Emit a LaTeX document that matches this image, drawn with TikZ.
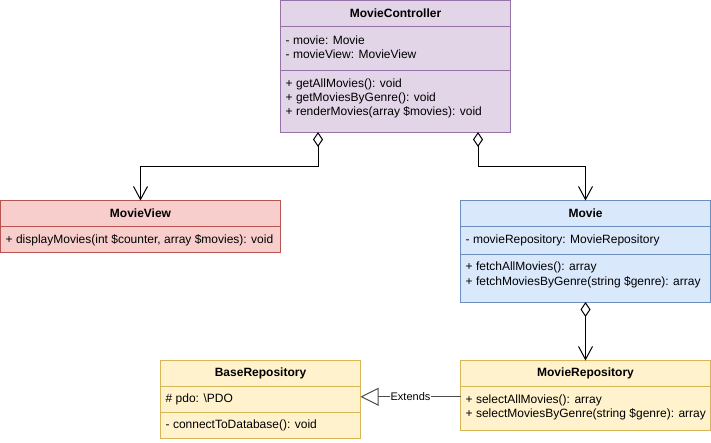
\documentclass[tikz,border=0pt]{standalone}
\usepackage{fontspec}
\setmainfont{Liberation Sans}
\usetikzlibrary{arrows.meta}
\definecolor{pfill}{HTML}{E1D5E7}\definecolor{pdraw}{HTML}{9673A6}
\definecolor{rfill}{HTML}{F8CECC}\definecolor{rdraw}{HTML}{B85450}
\definecolor{bfill}{HTML}{DAE8FC}\definecolor{bdraw}{HTML}{6C8EBF}
\definecolor{yfill}{HTML}{FFF2CC}\definecolor{ydraw}{HTML}{D6B656}
\tikzset{
  cls/.style={rectangle, inner sep=0pt, outer sep=0pt, anchor=north west, line width=1pt},
  ttl/.style={inner sep=0pt, font=\fontsize{12pt}{14.4pt}\selectfont\bfseries},
  mem/.style={inner sep=0pt, anchor=west, font=\fontsize{12pt}{14.4pt}\selectfont},
  agg/.style={line width=1pt, {Diamond[open, fill=white, length=15pt, width=10pt]}-{Straight Barb[length=13pt, width=14pt]}},
  ext/.style={line width=1pt, draw=black!70, -{Triangle[open, fill=white, length=18pt, width=18pt]}},
  lbl/.style={fill=white, inner sep=1pt, font=\fontsize{11pt}{13pt}\selectfont},
}
\begin{document}
\begin{tikzpicture}[x=1pt, y=-1pt]
\useasboundingbox (0,0) rectangle (711,442);
% MovieController
\node[cls, fill=pfill, draw=pdraw, minimum width=230pt, minimum height=131.5pt] (mc) at (280.5,0.5) {};
\draw[pdraw, line width=1pt] (280.5,26.5) -- (510.5,26.5) (280.5,70.5) -- (510.5,70.5);
\node[ttl] (mct) at (395.5,13.5) {MovieController};
\node[mem] (mca1) at (285.5,40) {- movie: Movie};
\node[mem] (mca2) at (285.5,54.4) {- movieView: MovieView};
\node[mem] (mcm1) at (285.5,84) {+ getAllMovies(): void};
\node[mem] (mcm2) at (285.5,98.4) {+ getMoviesByGenre(): void};
\node[mem] (mcm3) at (285.5,112.8) {+ renderMovies(array \$movies): void};
% MovieView
\node[cls, fill=rfill, draw=rdraw, minimum width=280pt, minimum height=51.5pt] (mv) at (0.5,200.5) {};
\draw[rdraw, line width=1pt] (0.5,226.5) -- (280.5,226.5);
\node[ttl] (mvt) at (140.5,213.5) {MovieView};
\node[mem] (mvm1) at (5.5,240) {+ displayMovies(int \$counter, array \$movies): void};
% Movie
\node[cls, fill=bfill, draw=bdraw, minimum width=250pt, minimum height=101.5pt] (mo) at (460.5,200.5) {};
\draw[bdraw, line width=1pt] (460.5,226.5) -- (710.5,226.5) (460.5,254) -- (710.5,254);
\node[ttl] (mot) at (585.5,213.5) {Movie};
\node[mem] (moa1) at (465.5,240) {- movieRepository: MovieRepository};
\node[mem] (mom1) at (465.5,267.5) {+ fetchAllMovies(): array};
\node[mem] (mom2) at (465.5,281.9) {+ fetchMoviesByGenre(string \$genre): array};
% BaseRepository
\node[cls, fill=yfill, draw=ydraw, minimum width=200pt, minimum height=77.5pt] (br) at (160.5,360.5) {};
\draw[ydraw, line width=1pt] (160.5,386.5) -- (360.5,386.5) (160.5,412) -- (360.5,412);
\node[ttl] (brt) at (260.5,373.5) {BaseRepository};
\node[mem] (bra1) at (165.5,399.5) {\# pdo: \textbackslash PDO};
\node[mem] (brm1) at (165.5,425.3) {- connectToDatabase(): void};
% MovieRepository
\node[cls, fill=yfill, draw=ydraw, minimum width=250pt, minimum height=69.5pt] (mr) at (460.5,360.5) {};
\draw[ydraw, line width=1pt] (460.5,386.5) -- (710.5,386.5);
\node[ttl] (mrt) at (585.5,373.5) {MovieRepository};
\node[mem] (mrm1) at (465.5,400) {+ selectAllMovies(): array};
\node[mem] (mrm2) at (465.5,414.4) {+ selectMoviesByGenre(string \$genre): array};
% connectors
\draw[agg] ([xshift=37.5pt]mc.south west) -- ++(0,34) -| (mv.north);
\draw[agg] ([xshift=-32.5pt]mc.south east) -- ++(0,34) -| (mo.north);
\draw[agg] (mo.south) -- (mr.north);
\draw[ext] ([yshift=-1.5pt]mr.west) -- ([yshift=-1.5pt]mr.west -| br.east) node[lbl, midway] (extl) {Extends};
\end{tikzpicture}
\end{document}
